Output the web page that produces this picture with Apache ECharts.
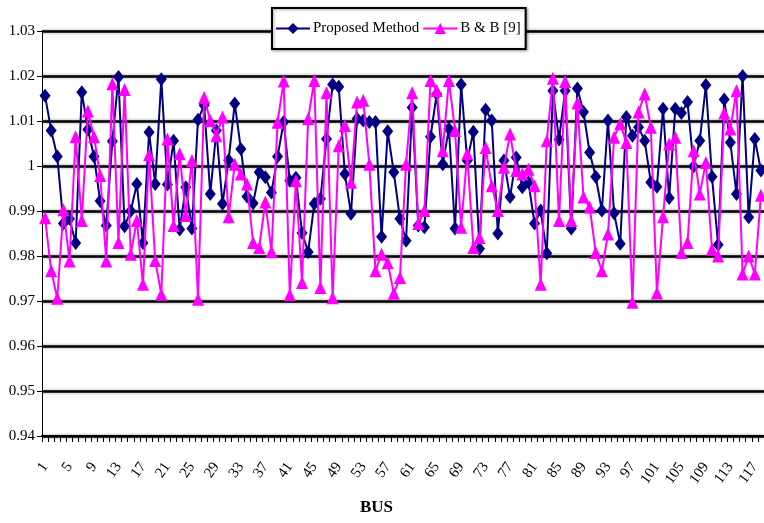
<!DOCTYPE html>
<html>
<head>
<meta charset="utf-8">
<script src="https://cdn.jsdelivr.net/npm/echarts@6/dist/echarts.min.js"></script>
<style>
  html, body { margin: 0; padding: 0; background: #fff; }
  #chart { width: 764px; height: 523px; }
</style>
</head>
<body>
<div id="chart"></div>
<script>
// Bus numbers of the IEEE 118-bus test system
const buses = [
  1, 2, 3, 4, 5, 6, 7, 8, 9, 10, 11, 12, 13, 14, 15, 16, 17, 18, 19, 20,
  21, 22, 23, 24, 25, 26, 27, 28, 29, 30, 31, 32, 33, 34, 35, 36, 37, 38, 39, 40,
  41, 42, 43, 44, 45, 46, 47, 48, 49, 50, 51, 52, 53, 54, 55, 56, 57, 58, 59, 60,
  61, 62, 63, 64, 65, 66, 67, 68, 69, 70, 71, 72, 73, 74, 75, 76, 77, 78, 79, 80,
  81, 82, 83, 84, 85, 86, 87, 88, 89, 90, 91, 92, 93, 94, 95, 96, 97, 98, 99, 100,
  101, 102, 103, 104, 105, 106, 107, 108, 109, 110, 111, 112, 113, 114, 115, 116, 117, 118
];

// Bus voltage magnitudes (p.u.) - proposed method
const proposed = [
  1.0156, 1.0079, 1.0021, 0.9872, 0.9883, 0.9829, 1.0164, 1.0081, 1.0021, 0.9922,
  0.9868, 1.0055, 1.0198, 0.9866, 0.9900, 0.9960, 0.9829, 1.0075, 0.9960, 1.0193,
  0.9959, 1.0056, 0.9859, 0.9953, 0.9861, 1.0103, 1.0135, 0.9938, 1.0079, 0.9916,
  1.0013, 1.0139, 1.0038, 0.9932, 0.9917, 0.9986, 0.9975, 0.9941, 1.0021, 1.0098,
  0.9967, 0.9974, 0.9851, 0.9809, 0.9916, 0.9927, 1.0060, 1.0181, 1.0176, 0.9982,
  0.9894, 1.0105, 1.0101, 1.0098, 1.0098, 0.9843, 1.0077, 0.9986, 0.9883, 0.9834,
  1.0130, 0.9868, 0.9864, 1.0065, 1.0160, 1.0004, 1.0083, 0.9861, 1.0181, 1.0012,
  1.0076, 0.9816, 1.0125, 1.0101, 0.9850, 1.0012, 0.9931, 1.0019, 0.9953, 0.9964,
  0.9872, 0.9901, 0.9806, 1.0167, 1.0059, 1.0167, 0.9861, 1.0172, 1.0120, 1.0030,
  0.9976, 0.9901, 1.0101, 0.9895, 0.9827, 1.0109, 1.0067, 1.0086, 1.0056, 0.9964,
  0.9954, 1.0127, 0.9929, 1.0127, 1.0118, 1.0142, 0.9999, 1.0056, 1.0180, 0.9976,
  0.9825, 1.0148, 1.0052, 0.9938, 1.0200, 0.9886, 1.0060, 0.9990
];

// Bus voltage magnitudes (p.u.) - B & B [9]
const bAndB = [
  0.9885, 0.9767, 0.9706, 0.9903, 0.9789, 1.0065, 0.9879, 1.0122, 1.0065, 0.9979,
  0.9789, 1.0183, 0.9830, 1.0170, 0.9804, 0.9879, 0.9737, 1.0025, 0.9790, 0.9715,
  1.0060, 0.9868, 1.0027, 0.9890, 1.0012, 0.9704, 1.0152, 1.0101, 1.0067, 1.0109,
  0.9887, 1.0004, 0.9982, 0.9960, 0.9830, 0.9819, 0.9920, 0.9810, 1.0097, 1.0189,
  0.9714, 0.9967, 0.9741, 1.0105, 1.0190, 0.9730, 1.0163, 0.9707, 1.0045, 1.0090,
  0.9964, 1.0142, 1.0146, 1.0004, 0.9767, 0.9804, 0.9785, 0.9717, 0.9752, 1.0004,
  1.0163, 0.9872, 0.9901, 1.0190, 1.0168, 1.0034, 1.0190, 1.0079, 0.9864, 1.0027,
  0.9819, 0.9841, 1.0041, 0.9956, 0.9901, 0.9997, 1.0071, 0.9990, 0.9982, 0.9993,
  0.9956, 0.9737, 1.0056, 1.0195, 0.9879, 1.0188, 0.9879, 1.0140, 0.9931, 0.9909,
  0.9808, 0.9767, 0.9849, 1.0064, 1.0094, 1.0052, 0.9697, 1.0120, 1.0160, 1.0086,
  0.9718, 0.9887, 1.0049, 1.0064, 0.9808, 0.9830, 1.0034, 0.9938, 1.0008, 0.9815,
  0.9800, 1.0118, 1.0082, 1.0167, 0.9760, 0.9800, 0.9760, 0.9935
];

// Voltage axis ticks
const yTicks = [0.94, 0.95, 0.96, 0.97, 0.98, 0.99, 1.00, 1.01, 1.02, 1.03];

const serif = '"Liberation Serif", "DejaVu Serif", serif';
const chart = echarts.init(document.getElementById('chart'), null, { renderer: 'canvas' });

chart.setOption({
  backgroundColor: '#ffffff',
  animation: false,
  grid: {
    left: 42,
    top: 31,
    bottom: 87,
    width: 729,
    containLabel: false
  },
  legend: {
    orient: 'horizontal',
    left: 272,
    top: 8,
    padding: [13, 5, 13, 3],
    itemGap: 3,
    itemWidth: 34,
    itemHeight: 14,
    backgroundColor: '#ffffff',
    borderColor: '#000000',
    borderWidth: 2,
    shadowColor: 'rgba(0,0,0,0.35)',
    shadowBlur: 3,
    shadowOffsetX: 1,
    shadowOffsetY: 1,
    textStyle: { fontFamily: serif, fontSize: 15, color: '#000', padding: [0, 0, 0, -2] },
    data: ['Proposed Method', 'B & B [9]']
  },
  xAxis: {
    type: 'category',
    data: buses,
    boundaryGap: true,
    axisLine: { show: true, lineStyle: { color: '#000', width: 2 } },
    axisTick: { show: true, interval: 0, length: 6, lineStyle: { color: '#000', width: 1 } },
    axisLabel: {
      interval: 3,
      rotate: 55,
      margin: 28,
      fontFamily: serif,
      fontSize: 15,
      color: '#000'
    },
    splitLine: { show: false }
  },
  yAxis: {
    type: 'value',
    min: yTicks[0],
    max: yTicks[yTicks.length - 1],
    interval: 0.01,
    axisLine: { show: true, lineStyle: { color: '#000', width: 1 } },
    axisTick: { show: true, length: 5, lineStyle: { color: '#000' } },
    axisLabel: {
      margin: 7,
      fontFamily: serif,
      fontSize: 15,
      color: '#000',
      formatter: v => String(parseFloat(v.toFixed(2)))
    },
    splitLine: {
      show: true,
      lineStyle: {
        color: '#000',
        width: 2.5,
        shadowColor: 'rgba(0,0,0,0.45)',
        shadowBlur: 3
      }
    }
  },
  graphic: [{
    type: 'text',
    left: 360,
    top: 499,
    style: {
      text: 'BUS',
      fontFamily: serif,
      fontSize: 17,
      fontWeight: 'bold',
      fill: '#000'
    }
  }],
  series: [
    {
      name: 'Proposed Method',
      type: 'line',
      data: proposed,
      symbol: 'diamond',
      symbolSize: [11, 14],
      showAllSymbol: true,
      color: '#000080',
      lineStyle: { color: '#000080', width: 2 },
      itemStyle: { color: '#000080' },
      z: 2
    },
    {
      name: 'B & B [9]',
      type: 'line',
      data: bAndB,
      symbol: 'triangle',
      symbolSize: [12, 13],
      showAllSymbol: true,
      color: '#ff00ff',
      lineStyle: { color: '#ff00ff', width: 2 },
      itemStyle: { color: '#ff00ff' },
      z: 3
    }
  ]
});
</script>
</body>
</html>
